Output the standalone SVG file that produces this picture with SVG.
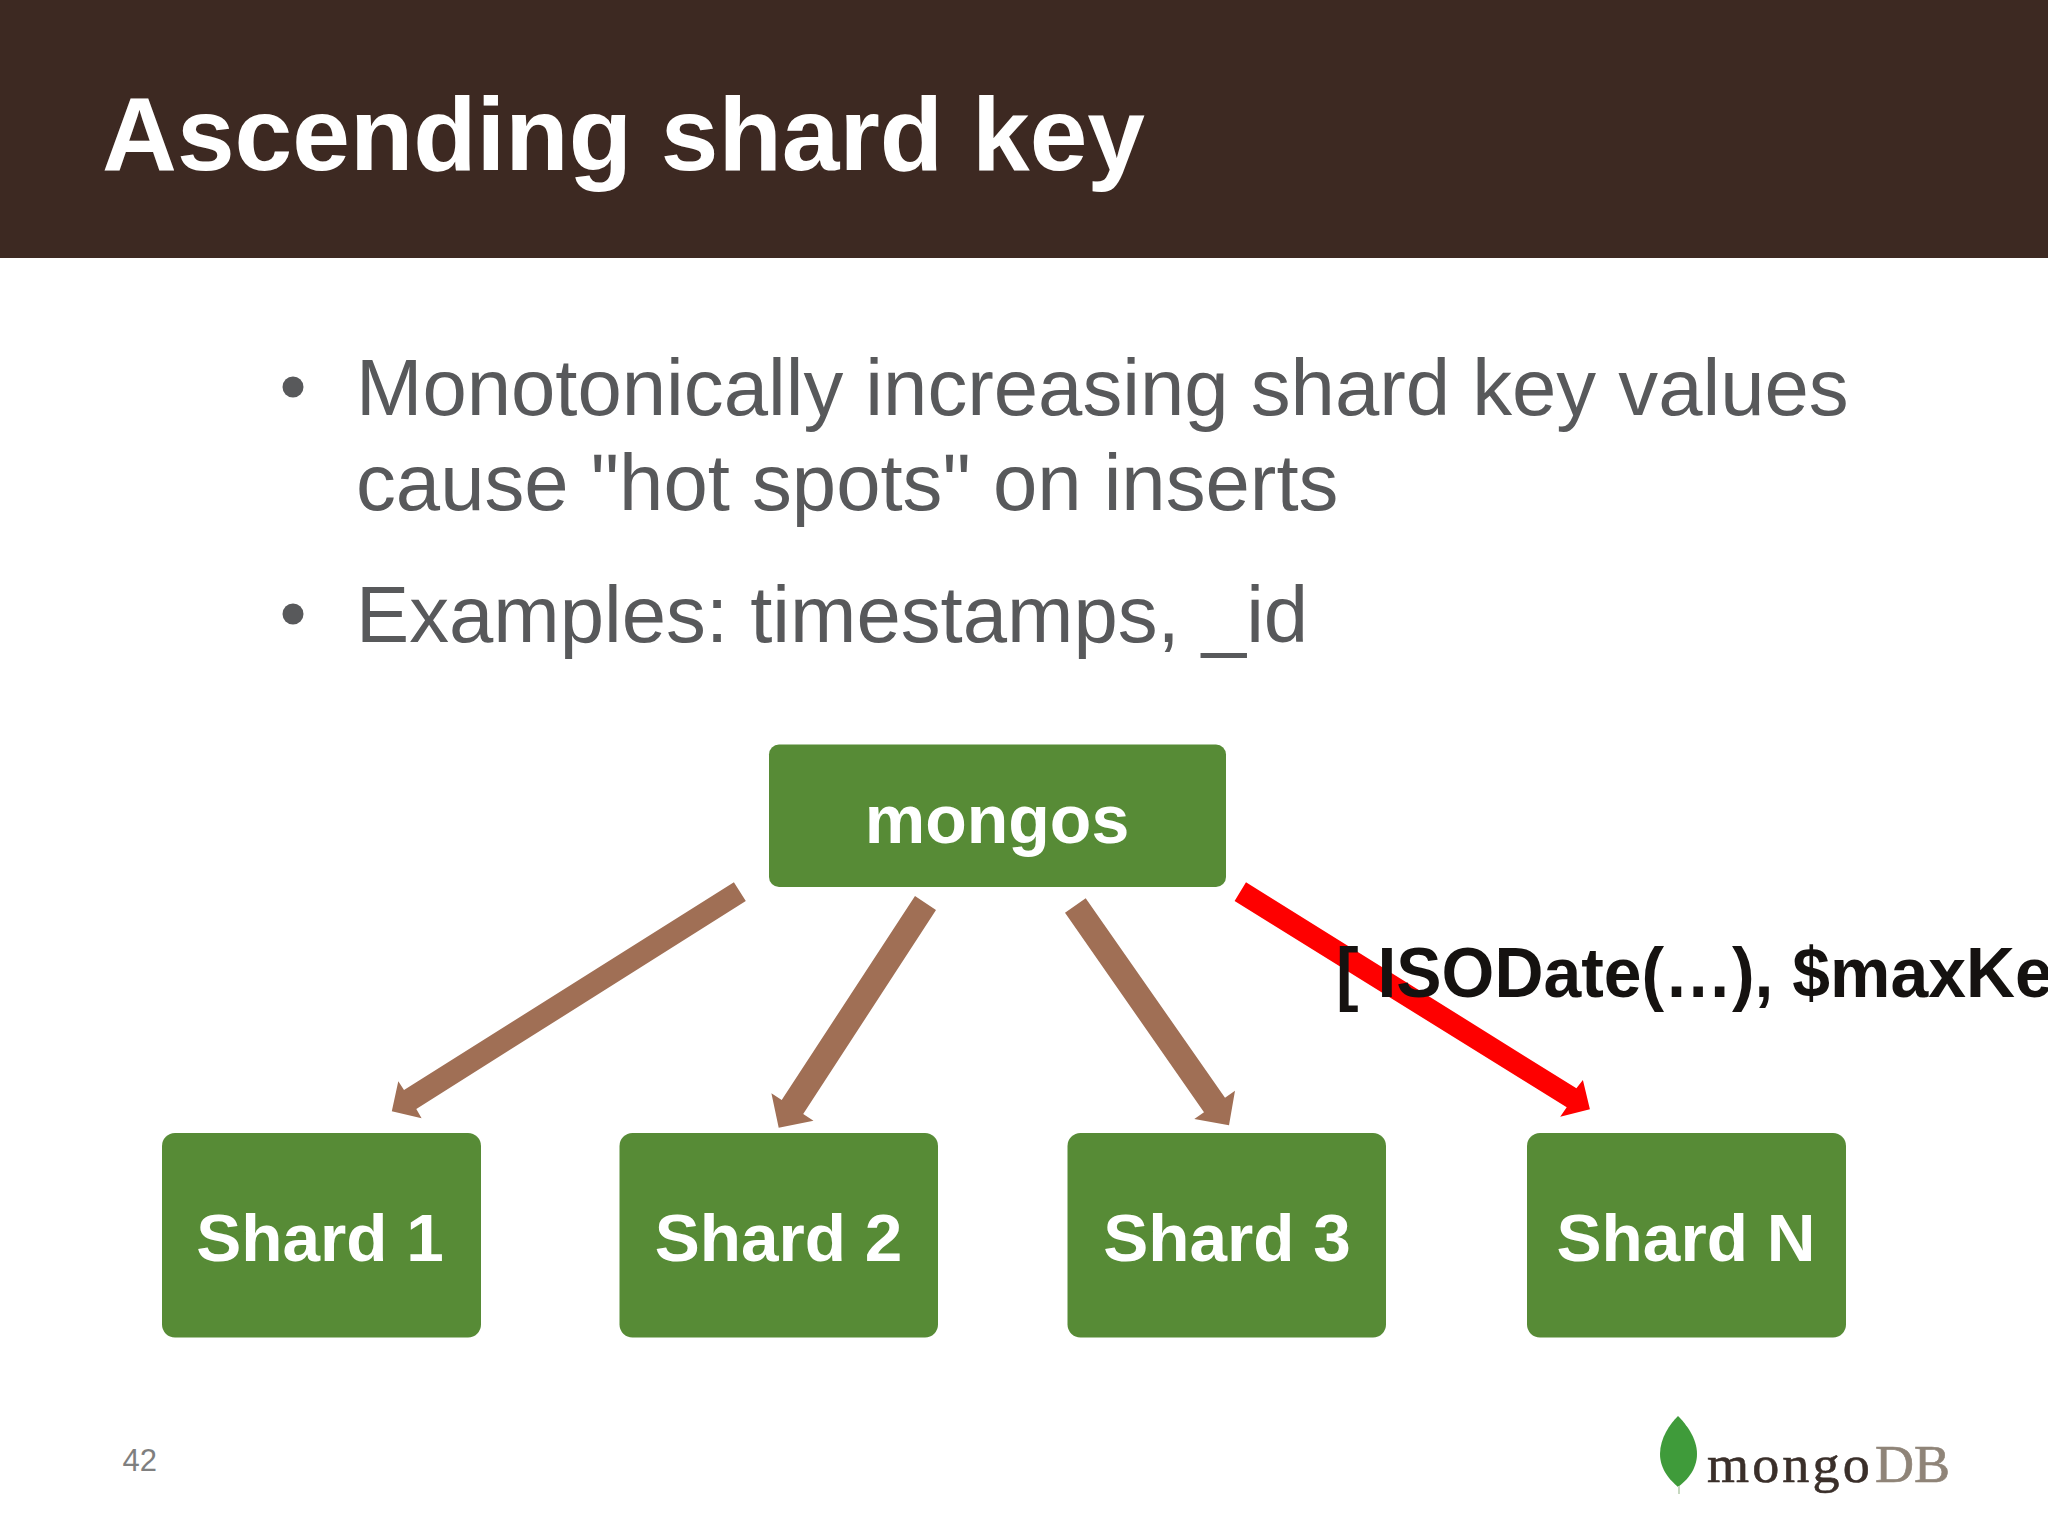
<svg xmlns="http://www.w3.org/2000/svg" width="2048" height="1536" viewBox="0 0 2048 1536">
<style>
text{font-family:"Liberation Sans",Arial,sans-serif}
.box{fill:#578b36}
.lbl{fill:#fff;font-weight:700;font-size:67.5px;text-anchor:middle}
.body{fill:#58595b;font-size:79.7px}
.brown{fill:#a06f55}
</style>
<rect width="2048" height="1536" fill="#fff"/>
<rect width="2048" height="258" fill="#3d2922"/>
<text x="102" y="169.500" font-size="103.700" font-weight="700" fill="#fff">Ascending shard key</text>
<circle cx="293" cy="387" r="10.500" fill="#58595b"/>
<text class="body" x="356" y="415">Monotonically increasing shard key values</text>
<text class="body" x="356" y="510">cause "hot spots" on inserts</text>
<circle cx="293" cy="614" r="10.500" fill="#58595b"/>
<text class="body" x="356" y="642">Examples: timestamps, _id</text>
<g id="connectors">
<polygon class="brown" points="733.900,882.300 745.800,901 416.300,1109 421.600,1118.300 391.800,1111.300 398.300,1081.300 404,1090"/>
<polygon class="brown" points="915,896 936,910 803.200,1114 813.500,1120.700 778.700,1127.700 771.400,1093.300 781.700,1100"/>
<polygon class="brown" points="1085.700,898.300 1065,912.700 1204,1112.300 1194.300,1119 1229,1125.300 1235,1090.700 1225,1097.700"/>
<polygon fill="#fe0000" points="1246,882.300 1234.600,901 1566.700,1107.300 1560.200,1116.700 1589.900,1109.300 1582.900,1080 1576.400,1088.300"/>
</g>
<g id="mongos"><rect class="box" x="769" y="744.500" width="457" height="142.500" rx="10"/><text class="lbl" x="997" y="843" style="font-size:68px">mongos</text></g>
<g id="shard1"><rect class="box" x="162" y="1133" width="319" height="204.500" rx="13"/><text class="lbl" x="320" y="1261">Shard 1</text></g>
<g id="shard2"><rect class="box" x="619.500" y="1133" width="318.500" height="204.500" rx="13"/><text class="lbl" x="778.500" y="1261">Shard 2</text></g>
<g id="shard3"><rect class="box" x="1067.500" y="1133" width="318.500" height="204.500" rx="13"/><text class="lbl" x="1227" y="1261">Shard 3</text></g>
<g id="shardN"><rect class="box" x="1527" y="1133" width="319" height="204.500" rx="13"/><text class="lbl" x="1686" y="1261">Shard N</text></g>
<text transform="translate(1336 997) scale(.97 1)" font-size="70" font-weight="700" fill="#151210">[ ISODate(…), $maxKe</text>
<text x="122.500" y="1471" font-size="31" fill="#7f7f7f">42</text>
<g id="logo">
<path d="M1678 1416C1670 1424 1660 1438 1660 1454C1660 1470 1671 1481 1678 1487C1686 1481 1697 1470 1697 1454C1697 1438 1686 1424 1678 1416Z" fill="#3f9b3a"/>
<path d="M1679 1486V1494" stroke="#c6d8c0" stroke-width="2"/>
<text transform="translate(1707 1482) scale(1.04 1)" font-size="52" fill="#3a2f2a" stroke="#3a2f2a" stroke-width=".6" style="font-family:'Liberation Serif',serif;letter-spacing:3px">mongo<tspan dx="2" fill="#8f8478" stroke="#8f8478" style="letter-spacing:0">DB</tspan></text>
</g>
</svg>
